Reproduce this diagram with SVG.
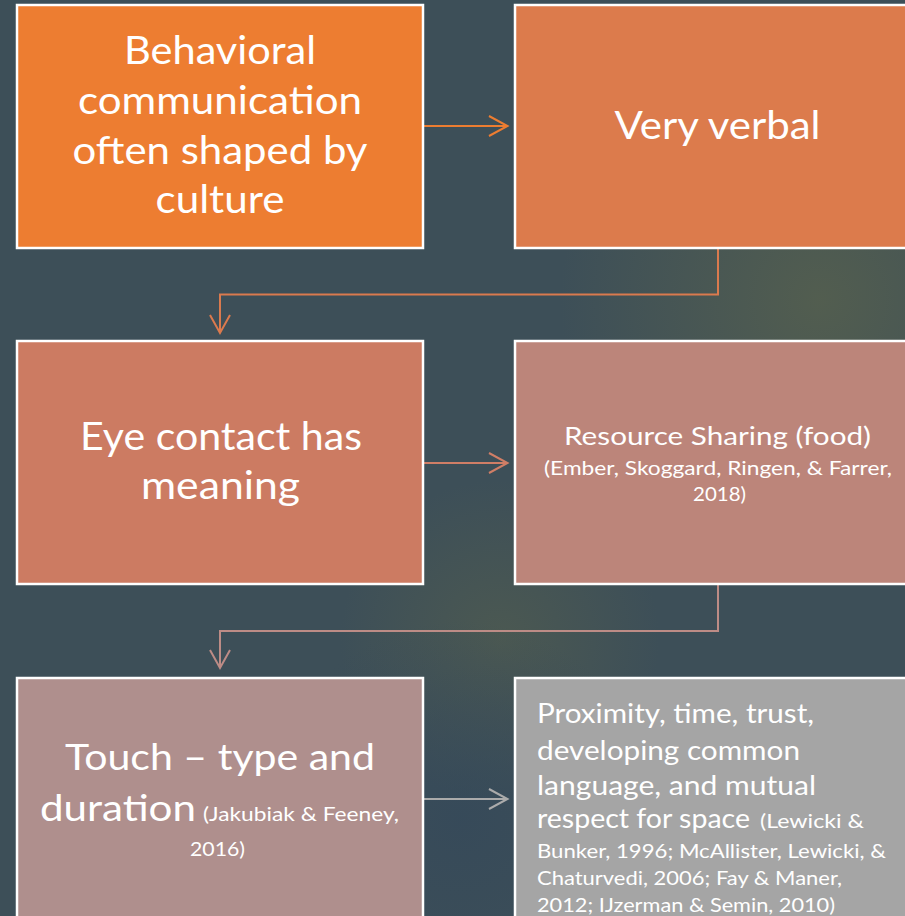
<svg xmlns="http://www.w3.org/2000/svg" width="905" height="916" viewBox="0 0 905 916">
  <defs>
    <radialGradient id="glowRight" cx="820" cy="300" r="260" gradientUnits="userSpaceOnUse">
      <stop offset="0" stop-color="#56604e" stop-opacity="0.85"/>
      <stop offset="1" stop-color="#56604e" stop-opacity="0"/>
    </radialGradient>
    <radialGradient id="glowMid" cx="500" cy="640" r="160" gradientUnits="userSpaceOnUse">
      <stop offset="0" stop-color="#4f5b50" stop-opacity="0.8"/>
      <stop offset="1" stop-color="#4f5b50" stop-opacity="0"/>
    </radialGradient>
    <radialGradient id="glowLow" cx="460" cy="820" r="200" gradientUnits="userSpaceOnUse">
      <stop offset="0" stop-color="#34485a" stop-opacity="0.7"/>
      <stop offset="1" stop-color="#34485a" stop-opacity="0"/>
    </radialGradient>
    <style>
      .box { stroke: #ffffff; stroke-width: 2.5; }
      .t { font-family: Lato, "Open Sans", "Liberation Sans", sans-serif; fill: #ffffff; }
      .big { font-size: 38px; text-anchor: middle; }
      .mid { font-size: 25px; }
      .small { font-size: 19px; }
      .conn { fill: none; stroke-width: 2; stroke-linejoin: miter; }
    </style>
  </defs>

  <!-- backdrop -->
  <rect x="0" y="0" width="905" height="916" fill="#3d4f58"/>
  <rect x="0" y="0" width="905" height="916" fill="url(#glowRight)"/>
  <rect x="0" y="0" width="905" height="916" fill="url(#glowMid)"/>
  <rect x="0" y="0" width="905" height="916" fill="url(#glowLow)"/>

  <!-- connectors -->
  <g id="connectors">
    <g stroke="#ed7d31" class="conn">
      <line x1="423" y1="126" x2="507" y2="126"/>
      <polyline points="489,116 507.5,126 489,136"/>
    </g>
    <g stroke="#da7a4e" class="conn">
      <path d="M718,248 V294.5 H220 V333"/>
      <polyline points="210,315 220,333 230,315"/>
    </g>
    <g stroke="#d07e66" class="conn">
      <line x1="423" y1="463" x2="507" y2="463"/>
      <polyline points="489,453 507.5,463 489,473"/>
    </g>
    <g stroke="#bd8c86" class="conn">
      <path d="M718,584 V631 H220 V668"/>
      <polyline points="210,650 220,668 230,650"/>
    </g>
    <g stroke="#ababab" class="conn">
      <line x1="423" y1="799" x2="507" y2="799"/>
      <polyline points="489,789 507.5,799 489,809"/>
    </g>
  </g>

  <!-- nodes -->
  <g id="node-behavioral">
    <rect class="box" x="17" y="5" width="406" height="243" fill="#ed7d31"/>
    <text class="t big" x="220" y="64" textLength="192" lengthAdjust="spacingAndGlyphs">Behavioral</text>
    <text class="t big" x="220" y="114" textLength="284" lengthAdjust="spacingAndGlyphs">communication</text>
    <text class="t big" x="220" y="164" textLength="295" lengthAdjust="spacingAndGlyphs">often shaped by</text>
    <text class="t big" x="220" y="213" textLength="129" lengthAdjust="spacingAndGlyphs">culture</text>
  </g>

  <g id="node-verbal">
    <rect class="box" x="515" y="5" width="400" height="243" fill="#dc7b4c"/>
    <text class="t big" x="717.5" y="139" textLength="206" lengthAdjust="spacingAndGlyphs">Very verbal</text>
  </g>

  <g id="node-eye-contact">
    <rect class="box" x="17" y="341" width="406" height="243" fill="#cc7b62"/>
    <text class="t big" x="221" y="450" textLength="282" lengthAdjust="spacingAndGlyphs">Eye contact has</text>
    <text class="t big" x="220.5" y="499" textLength="159" lengthAdjust="spacingAndGlyphs">meaning</text>
  </g>

  <g id="node-resource">
    <rect class="box" x="515" y="341" width="400" height="243" fill="#bc857a"/>
    <text class="t mid" x="717.5" y="445" text-anchor="middle" textLength="307" lengthAdjust="spacingAndGlyphs">Resource Sharing (food)</text>
    <text class="t small" x="718" y="475" text-anchor="middle" textLength="348" lengthAdjust="spacingAndGlyphs">(Ember, Skoggard, Ringen, &amp; Farrer,</text>
    <text class="t small" x="719.5" y="501" text-anchor="middle" textLength="53" lengthAdjust="spacingAndGlyphs">2018)</text>
  </g>

  <g id="node-touch">
    <rect class="box" x="17" y="678" width="406" height="243" fill="#af8f8d"/>
    <text class="t" font-size="36" x="220" y="770" text-anchor="middle" textLength="310" lengthAdjust="spacingAndGlyphs">Touch – type and</text>
    <text class="t" font-size="36" x="40" y="821" textLength="156" lengthAdjust="spacingAndGlyphs">duration</text>
    <text class="t small" x="203" y="821" textLength="196" lengthAdjust="spacingAndGlyphs">(Jakubiak &amp; Feeney,</text>
    <text class="t small" x="217.5" y="856" text-anchor="middle" textLength="55" lengthAdjust="spacingAndGlyphs">2016)</text>
  </g>

  <g id="node-proximity">
    <rect class="box" x="515" y="678" width="400" height="243" fill="#a5a5a5"/>
    <text class="t" font-size="26" x="537" y="723" textLength="277" lengthAdjust="spacingAndGlyphs">Proximity, time, trust,</text>
    <text class="t" font-size="26" x="537" y="760" textLength="263" lengthAdjust="spacingAndGlyphs">developing common</text>
    <text class="t" font-size="26" x="537" y="795" textLength="279" lengthAdjust="spacingAndGlyphs">language, and mutual</text>
    <text class="t" font-size="26" x="537" y="828" textLength="213" lengthAdjust="spacingAndGlyphs">respect for space</text>
    <text class="t small" x="760" y="828" textLength="104" lengthAdjust="spacingAndGlyphs">(Lewicki &amp;</text>
    <text class="t small" x="537" y="858" textLength="349" lengthAdjust="spacingAndGlyphs">Bunker, 1996; McAllister, Lewicki, &amp;</text>
    <text class="t small" x="537" y="885" textLength="305" lengthAdjust="spacingAndGlyphs">Chaturvedi, 2006; Fay &amp; Maner,</text>
    <text class="t small" x="537" y="912" textLength="298" lengthAdjust="spacingAndGlyphs">2012; IJzerman &amp; Semin, 2010)</text>
  </g>
</svg>
